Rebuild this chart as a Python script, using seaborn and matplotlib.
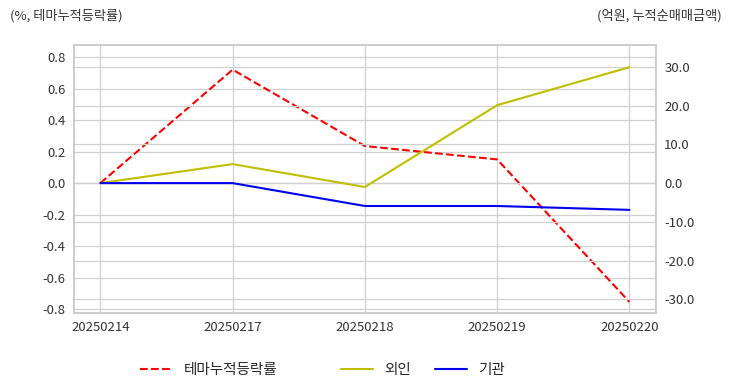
import pandas as pd
import matplotlib.pyplot as plt
import seaborn as sns
from matplotlib.ticker import FormatStrFormatter, MultipleLocator

dates = ["20250214", "20250217", "20250218", "20250219", "20250220"]
theme_rate = [0.0, 0.72, 0.235, 0.15, -0.755]
foreign = [0.0, 4.9, -1.0, 20.1, 29.9]
institution = [0.0, 0.0, -5.9, -5.9, -6.9]

df = pd.DataFrame({"date": dates, "theme": theme_rate,
                   "foreign": foreign, "inst": institution})

sns.set_theme(style="whitegrid")
plt.rcParams['font.family'] = ['Noto Sans CJK KR', 'DejaVu Sans']
plt.rcParams['axes.unicode_minus'] = False

fig = plt.figure(figsize=(7.32, 3.92), dpi=100)
ax1 = fig.add_axes([0.101, 0.2015, 0.795, 0.6835])
ax2 = ax1.twinx()

sns.lineplot(data=df, x="date", y="theme", ax=ax1, color="red",
             linestyle="--", linewidth=1.5, label="테마누적등락률", legend=False)
sns.lineplot(data=df, x="date", y="foreign", ax=ax2, color="#bfbf00",
             linewidth=1.5, label="외인", legend=False)
sns.lineplot(data=df, x="date", y="inst", ax=ax2, color="#0000ee",
             linewidth=1.5, label="기관", legend=False)

ax1.set_xlim(-0.2, 4.2)
ax1.set_ylim(-0.825, 0.876)
ax2.set_ylim(-33.5, 35.6)
ax1.yaxis.set_major_locator(MultipleLocator(0.2))
ax1.yaxis.set_major_formatter(FormatStrFormatter('%.1f'))
ax2.yaxis.set_major_locator(MultipleLocator(10))
ax2.yaxis.set_major_formatter(FormatStrFormatter('%.1f'))

for ax in (ax1, ax2):
    ax.set_xlabel("")
    ax.set_ylabel("")
    ax.tick_params(labelsize=9.5, labelcolor="#333333", length=0, pad=6)
    for s in ax.spines.values():
        s.set_color("#cccccc")
        s.set_linewidth(1.2)
ax1.grid(True, color="#d0d0d0", linewidth=0.9)
ax2.grid(True, axis="y", color="#d0d0d0", linewidth=0.9)
ax2.grid(False, axis="x")

fig.text(0.014, 0.96, "(%, 테마누적등락률)", fontsize=9.5, color="#333333", va="center")
fig.text(0.986, 0.96, "(억원, 누적순매매금액)", fontsize=9.5, color="#333333",
         va="center", ha="right")

h1, l1 = ax1.get_legend_handles_labels()
h2, l2 = ax2.get_legend_handles_labels()
fig.legend(h1, l1, loc="center", bbox_to_anchor=(0.285, 0.056), frameon=False,
           fontsize=10.5, handlelength=2.2)
fig.legend(h2, l2, loc="center", bbox_to_anchor=(0.578, 0.056), frameon=False,
           fontsize=10.5, ncol=2, handlelength=2.2, columnspacing=1.6)

fig.savefig("out.png", dpi=100)
